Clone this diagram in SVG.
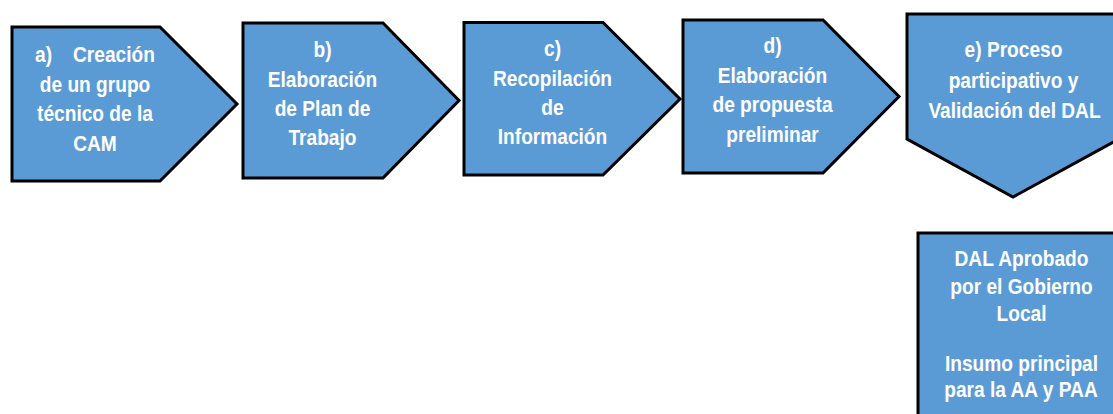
<svg xmlns="http://www.w3.org/2000/svg" width="1113" height="414" viewBox="0 0 1113 414">
<style>
.shape{fill:#5B9BD5;stroke:#000;stroke-width:3;stroke-linejoin:miter}
.lbl{font-family:"Liberation Sans",Arial,sans-serif;font-weight:bold;font-size:22px;fill:#fff;text-anchor:middle}
.st{text-anchor:start}
</style>
<rect width="1113" height="414" fill="#fff"/>
<g id="node-a">
<polygon class="shape" points="12,27 160,27 237,104 160,181 12,181"/>
<text class="lbl st" transform="translate(35,62) scale(0.87,1)">a)</text>
<text class="lbl st" transform="translate(73,62) scale(0.87,1)">Creación</text>
<text class="lbl" transform="translate(95,91.5) scale(0.87,1)">de un grupo</text>
<text class="lbl" transform="translate(95,121) scale(0.87,1)">técnico de la</text>
<text class="lbl" transform="translate(95,151) scale(0.87,1)">CAM</text>
</g>
<g id="node-b">
<polygon class="shape" points="243,23 383,23 459,100.5 383,178 243,178"/>
<text class="lbl" transform="translate(322.5,57) scale(0.87,1)">b)</text>
<text class="lbl" transform="translate(322.5,86.5) scale(0.87,1)">Elaboración</text>
<text class="lbl" transform="translate(322.5,116) scale(0.87,1)">de Plan de</text>
<text class="lbl" transform="translate(322.5,145) scale(0.87,1)">Trabajo</text>
</g>
<g id="node-c">
<polygon class="shape" points="464,22.5 603,22.5 680,99 603,175 464,175"/>
<text class="lbl" transform="translate(552.5,56) scale(0.87,1)">c)</text>
<text class="lbl" transform="translate(552.5,85.5) scale(0.87,1)">Recopilación</text>
<text class="lbl" transform="translate(552.5,115) scale(0.87,1)">de</text>
<text class="lbl" transform="translate(552.5,144) scale(0.87,1)">Información</text>
</g>
<g id="node-d">
<polygon class="shape" points="683,20 823,20 899,96.5 823,173 683,173"/>
<text class="lbl" transform="translate(772.5,53) scale(0.87,1)">d)</text>
<text class="lbl" transform="translate(772.5,82.5) scale(0.87,1)">Elaboración</text>
<text class="lbl" transform="translate(772.5,112) scale(0.87,1)">de propuesta</text>
<text class="lbl" transform="translate(772.5,141.5) scale(0.87,1)">preliminar</text>
</g>
<g id="node-e">
<polygon class="shape" points="907,14 1119,14 1119,139 1013,197 907,139"/>
<text class="lbl" transform="translate(1013.5,57) scale(0.87,1)">e) Proceso</text>
<text class="lbl" transform="translate(1013.5,87.5) scale(0.87,1)">participativo y</text>
<text class="lbl" transform="translate(1014.5,118) scale(0.87,1)">Validación del DAL</text>
</g>
<g id="node-f">
<rect class="shape" x="918" y="233" width="210" height="200"/>
<text class="lbl" transform="translate(1021.5,266) scale(0.87,1)">DAL Aprobado</text>
<text class="lbl" transform="translate(1021.5,294) scale(0.87,1)">por el Gobierno</text>
<text class="lbl" transform="translate(1021.5,321) scale(0.87,1)">Local</text>
<text class="lbl" transform="translate(1021.5,371) scale(0.87,1)">Insumo principal</text>
<text class="lbl" transform="translate(1021,397) scale(0.87,1)">para la AA y PAA</text>
</g>
</svg>
